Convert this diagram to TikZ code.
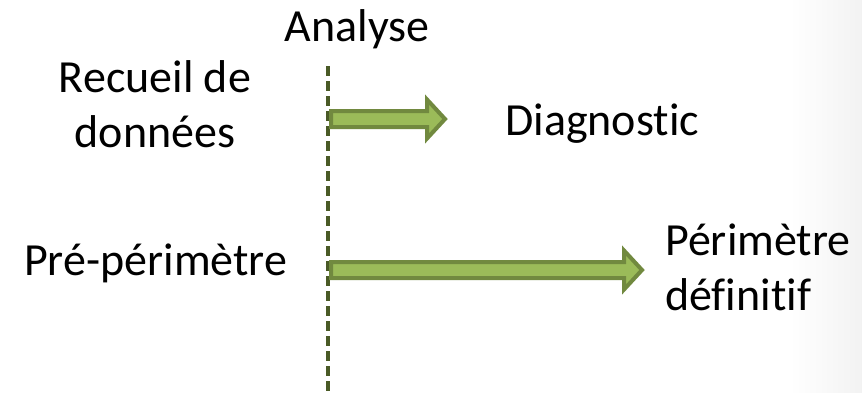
\documentclass[tikz,border=0pt]{standalone}
\usepackage{fontspec}
\setmainfont{Carlito}[Ligatures={NoCommon,NoContextual}]
\usepackage{xcolor}
\usepackage{tikz}
\usetikzlibrary{calc,positioning}

\definecolor{arrowfill}{HTML}{9BBB59}
\definecolor{arrowline}{HTML}{71893F}
\definecolor{cutline}{HTML}{4A5A26}

\tikzset{
  label/.style={font=\fontsize{46}{55}\selectfont, inner sep=0pt, align=center},
  fatarrow/.style={fill=arrowfill, draw=arrowline, line width=4pt, line join=miter},
  cutstyle/.style={draw=cutline, line width=3.2pt, dash pattern=on 10pt off 5pt}
}

% fat block arrow between two named coordinates
\newcommand{\fatarrow}[2]{%
  \draw[fatarrow] ($(#1)+(0,8)$) -- ($(#2)+(-18,8)$) -- ($(#2)+(-18,19.5)$)
    -- (#2) -- ($(#2)+(-18,-19.5)$) -- ($(#2)+(-18,-8)$) -- ($(#1)+(0,-8)$) -- cycle;}

\begin{document}
\begin{tikzpicture}[x=1pt,y=-1pt]
\useasboundingbox (0,0) rectangle (862,392);
% faint shadow on the right edge
\shade[left color=white, right color=gray!10] (790,0) rectangle (862,392);

% Analysis line
\coordinate (top) at (328,66);
\coordinate (bottom) at (328,392);
\draw[cutstyle] (top) -- (bottom);
\node[label, anchor=base] (analyse) at (357,41) {Analyse};

% Texts
\node[label, anchor=base] (recueil) at (155,147) {Recueil de\\données};
\node[label, anchor=base west] (diag) at (505,135) {Diagnostic};
\node[label, anchor=base west] (pre) at (24,275) {Pré-périmètre};
\node[label, anchor=base west, align=left] (perim) at (665,310) {Périmètre\\définitif};

% Arrows
\coordinate (s1) at (331,119);
\coordinate (e1) at (445,119);
\coordinate (s2) at (331,270);
\coordinate (e2) at (642,270);
\fatarrow{s1}{e1}
\fatarrow{s2}{e2}
\end{tikzpicture}
\end{document}
